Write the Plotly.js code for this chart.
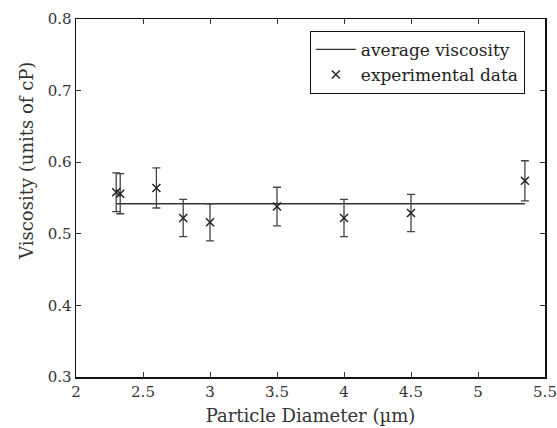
<!DOCTYPE html>
<html>
<head>
<meta charset="utf-8">
<script src="https://cdn.plot.ly/plotly-3.0.1.min.js"></script>
<style>html,body{margin:0;padding:0;background:#fff;}#chart{width:557px;height:428px;}</style>
</head>
<body>
<div id="chart"></div>
<script>
const diameters = [2.3, 2.33, 2.6, 2.8, 3.0, 3.5, 4.0, 4.5, 5.35];
const viscosity = [0.558, 0.556, 0.564, 0.522, 0.516, 0.538, 0.522, 0.529, 0.574];
const viscosityErr = [0.027, 0.028, 0.028, 0.026, 0.026, 0.027, 0.026, 0.026, 0.028];
const averageViscosity = 0.542;
const avgX = [2.3, 5.35];
const avgY = [averageViscosity, averageViscosity];
const xTicks = [2, 2.5, 3, 3.5, 4, 4.5, 5, 5.5];
const yTicks = [0.3, 0.4, 0.5, 0.6, 0.7, 0.8];

const FONT = "DejaVu Serif, serif";
const traces = [
  {x: avgX, y: avgY, mode: 'lines', name: 'average viscosity',
   line: {color: '#333', width: 1.3}},
  {x: diameters, y: viscosity, mode: 'markers', name: 'experimental data',
   marker: {symbol: 'x-thin', size: 8, line: {color: '#222', width: 1.5}, color: '#222'},
   error_y: {type: 'data', array: viscosityErr, visible: true, color: '#444', thickness: 1.3, width: 4}}
];
const axisCommon = {
  showgrid: false, zeroline: false, showline: true, linecolor: '#111', linewidth: 1.5,
  mirror: 'ticks', ticks: 'inside', ticklen: 5, tickwidth: 1, tickcolor: '#333',
  tickfont: {family: FONT, size: 15, color: '#333'}
};
const layout = {
  width: 557, height: 428,
  margin: {l: 76, r: 12, t: 19, b: 51},
  paper_bgcolor: '#fff', plot_bgcolor: '#fff',
  showlegend: true,
  legend: {x: 0.957, xanchor: 'right', y: 0.967, yanchor: 'top', itemwidth: 40,
    bordercolor: '#111', borderwidth: 1, bgcolor: '#fff', tracegroupgap: 0,
    font: {family: FONT, size: 17, color: '#222'}},
  xaxis: Object.assign({}, axisCommon, {range: [2, 5.5], tickvals: xTicks,
    ticktext: xTicks.map(String),
    title: {text: 'Particle Diameter (\u00b5m)', font: {family: FONT, size: 18, color: '#333'}, standoff: 10}}),
  yaxis: Object.assign({}, axisCommon, {range: [0.3, 0.8], tickvals: yTicks,
    ticktext: yTicks.map(v => v.toFixed(1))}),
  annotations: [{text: 'Viscosity (units of cP)', xref: 'paper', yref: 'paper',
    x: -0.107, y: 0.603, xanchor: 'center', yanchor: 'middle', textangle: -90, showarrow: false,
    font: {family: FONT, size: 18, color: '#333'}}]
};
Plotly.newPlot('chart', traces, layout, {staticPlot: true, displayModeBar: false});
</script>
</body>
</html>
